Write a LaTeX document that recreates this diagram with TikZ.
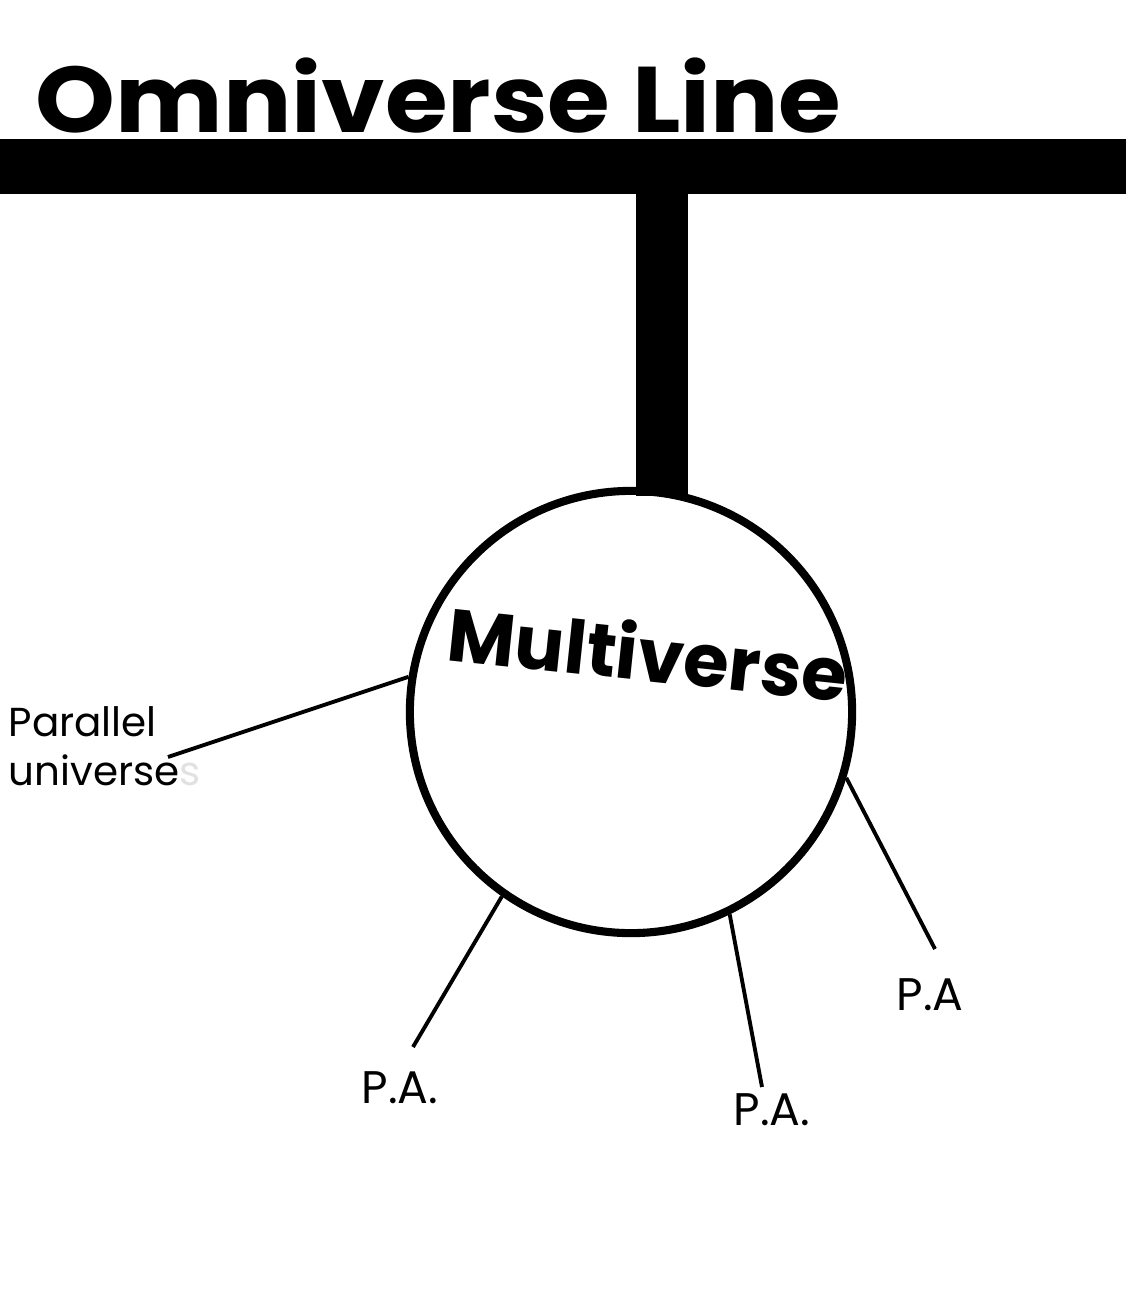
\documentclass[tikz,border=0pt]{standalone}
\usepackage{fontspec}
\setmainfont{Poppins}
\usepackage{xcolor}
\definecolor{inkblack}{RGB}{0,0,0}
\definecolor{inkfade}{RGB}{225,225,225}
\usetikzlibrary{positioning, calc}

\tikzset{
  branch/.style={draw=inkblack, line width=1.1pt},
  palabel/.style={font=\fontsize{13}{15}\selectfont, inner sep=0pt},
}

\begin{document}
\begin{tikzpicture}[x=0.01cm, y=-0.01cm]
  \useasboundingbox (0,0) rectangle (1126,1308);

  % the omniverse line and its stem
  \node[fill=inkblack, inner sep=0pt, minimum width=11.26cm, minimum height=0.55cm]
        (omniline) at (563,166.5) {};
  \node[anchor=base west, inner sep=0pt, xscale=1.09,
        font=\fontsize{26.5}{32}\selectfont\bfseries]
        (omnititle) at (35,132) {Omniverse Line};

  \node[draw=inkblack, line width=2.3pt, circle, minimum size=4.42cm, inner sep=0pt]
        (multi) at (631,712) {};
  \fill[inkblack] (636,185) rectangle (688,496);
  \node[font=\fontsize{21}{24}\selectfont\bfseries, rotate=-6, inner sep=0pt]
        (multititle) at (648,652) {Multiverse};

  % parallel universes
  \node[anchor=north west, align=left, inner sep=0pt,
        font=\fontsize{11.5}{14}\selectfont]
        (parallel) at (8,706) {Parallel\\universe{\color{inkfade}s}};
  \coordinate (parend) at (168,757);
  \draw[branch] (multi.171) -- (parend);

  % P.A. branches
  \node[palabel] (pa1) at (400,1088) {P.A.};
  \node[palabel] (pa2) at (772,1110) {P.A.};
  \node[palabel] (pa3) at (930,995) {P.A};
  \coordinate (pa1end) at (413,1047);
  \coordinate (pa2end) at (762,1087);
  \coordinate (pa3end) at (935,949);
  \draw[branch] (multi.235.5) -- (pa1end);
  \draw[branch] (multi.296.5) -- (pa2end);
  \draw[branch] (multi.343) -- (pa3end);
\end{tikzpicture}
\end{document}
